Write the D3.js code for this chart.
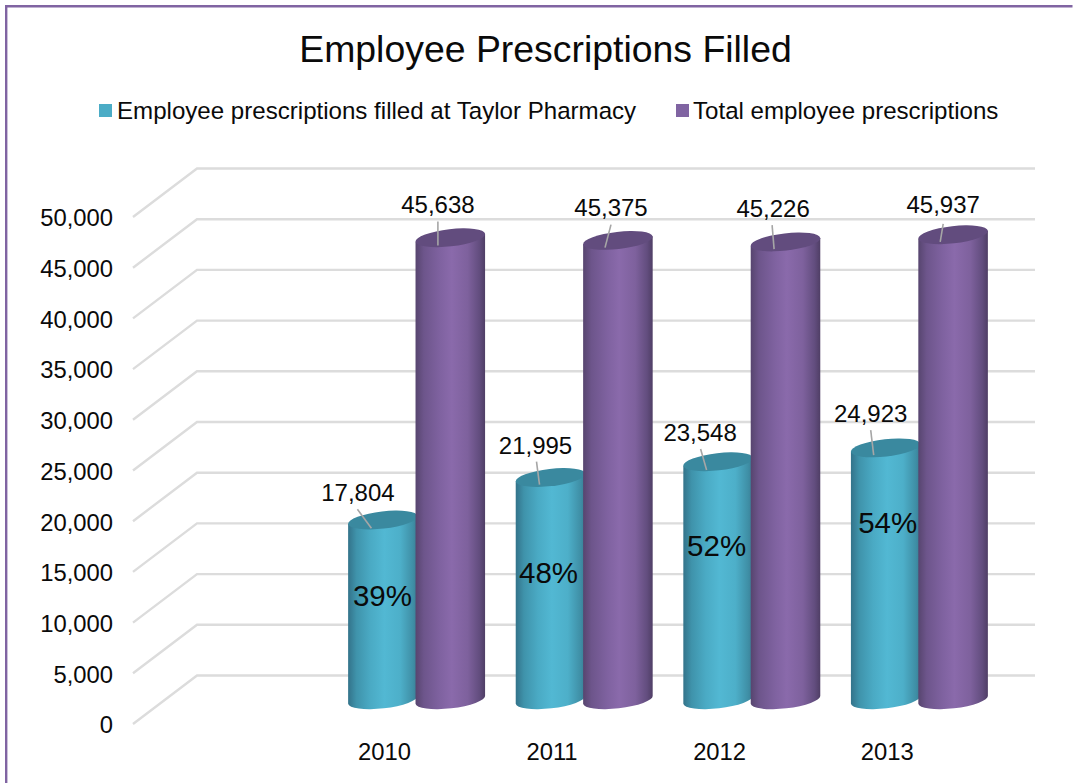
<!DOCTYPE html>
<html>
<head>
<meta charset="utf-8">
<script src="https://cdnjs.cloudflare.com/ajax/libs/d3/7.8.5/d3.min.js"></script>
<style>
  html, body { margin: 0; padding: 0; background: #fff; overflow: hidden; }
  svg { display: block; }
  text { font-family: "Liberation Sans", Arial, sans-serif; fill: #0a0a0a; }
</style>
</head>
<body>
<script>
// The leading blank category leaves an empty slot beside the value axis.
const categories = ["", "2010", "2011", "2012", "2013"];
const years = ["2010", "2011", "2012", "2013"];
const filledAtTaylor = [17804, 21995, 23548, 24923];
const totalPrescriptions = [45638, 45375, 45226, 45937];
const seriesNames = ["Employee prescriptions filled at Taylor Pharmacy", "Total employee prescriptions"];
const valueTicks = [0, 5000, 10000, 15000, 20000, 25000, 30000, 35000, 40000, 45000, 50000];

// Hand placement of the callouts, relative to the centre of each cylinder top:
// [label dx, label baseline dy, leader start dx, dy, leader end dx, dy]
const filledCallouts = [
  [-25, -18, -25.5, -10, -11.5, 9],
  [-15, -23, -14, -15, -11, 8],
  [-18, -20, -17.5, -12, -11.5, 9],
  [-15, -25, -15, -17, -12, 8]
];
const totalCallouts = [
  [-12, -24, -12, -15.5, -12, 8.5],
  [-6.5, -23.5, -6.5, -15, -12.5, 8],
  [-12, -24.5, -13, -16, -11, 8],
  [-9.5, -20.5, -9.5, -10, -12.5, 8]
];
const shareNudges = [[-0.5, 87], [-2, 106], [-1.5, 95], [2, 86]];

const W = 1073, H = 783;
const depth = { dx: 64, dy: 48.5 };
const barW = 70, barHalfGap = 33.5, tilt = 6.5, ry = 8.6, capDrop = 0.8;

const svg = d3.select("body").append("svg").attr("width", W).attr("height", H);

// Frame, open at the right and bottom where the page crops it
svg.append("path")
  .attr("d", `M6.2,${H}V6.2H${W - 0.5}`)
  .attr("fill", "none").attr("stroke", "#8064a2").attr("stroke-width", 2.4);

svg.append("text").attr("x", 545.5).attr("y", 62).attr("text-anchor", "middle")
  .attr("font-size", 37.4).text("Employee Prescriptions Filled");

// Legend
const legendSwatch = ["#4bacc6", "#8064a2"];
[[99, 117], [676, 693]].forEach(([sx, tx], i) => {
  svg.append("rect").attr("x", sx).attr("y", 104).attr("width", 13).attr("height", 13).attr("fill", legendSwatch[i]);
  svg.append("text").attr("x", tx).attr("y", 119).attr("font-size", 24.1).text(seriesNames[i]);
});

// Scales: front edge of the floor, with the back wall offset by the chart depth
const yFront = d3.scaleLinear().domain([0, 50000]).range([724, 217]);
const xFront = d3.scaleBand().domain(categories).range([133, 971]);
const yBack = v => yFront(v) - depth.dy;
const yMid = v => yFront(v) - depth.dy / 2;
const xMid = c => xFront(c) + xFront.bandwidth() / 2 + depth.dx / 2;

// Gridlines along the side wall and back wall
const grid = svg.append("g").attr("fill", "none").attr("stroke", "#dcdcdc").attr("stroke-width", 2.4);
grid.selectAll("path").data(valueTicks).join("path")
  .attr("d", v => `M${xFront.range()[0]},${yFront(v)}L${xFront.range()[0] + depth.dx},${yBack(v)}H${xFront.range()[1] + depth.dx}`);

// Axis labels
const yAxis = svg.append("g").attr("transform", "translate(123,1)")
  .call(d3.axisLeft(yFront).tickValues(valueTicks).tickSize(0).tickPadding(10).tickFormat(d3.format(",")));
const xAxis = svg.append("g").attr("transform", "translate(0,743.5)")
  .call(d3.axisBottom(xFront).tickSize(0).tickPadding(0));
[yAxis, xAxis].forEach(a => {
  a.select(".domain").remove();
  a.selectAll("text").attr("font-size", 23.8).attr("fill", "#0a0a0a").attr("font-family", '"Liberation Sans", Arial, sans-serif');
});
yAxis.selectAll("text").attr("dy", "0.33em");
xAxis.selectAll("text").attr("dy", "0.71em");

// Side shading across each cylinder
const defs = svg.append("defs");
function shade(id, stops) {
  const g = defs.append("linearGradient").attr("id", id);
  stops.forEach(([o, c]) => g.append("stop").attr("offset", o).attr("stop-color", c));
}
shade("bodyTeal", [[0, "#33738a"], [0.12, "#3f93ab"], [0.32, "#4aaac4"], [0.52, "#52b8d3"], [0.75, "#4dafc9"], [0.93, "#3f8fa6"], [1, "#397d93"]]);
shade("bodyPurple", [[0, "#57456f"], [0.12, "#6d558b"], [0.35, "#7f62a0"], [0.52, "#8a6aab"], [0.75, "#7e619d"], [0.92, "#624d7e"], [1, "#4f3e65"]]);

const rad = tilt * Math.PI / 180;
const ex = barW / 2 * Math.cos(rad), ey = barW / 2 * Math.sin(rad);

function cylinder(g, cx, v, bodyFill, capFill) {
  const top = yMid(v) + capDrop, base = yMid(0);
  const arc = `A${barW / 2},${ry} ${-tilt} 0 0`;
  g.append("path")
    .attr("d", `M${cx - ex},${top + ey}L${cx - ex},${base + ey}${arc} ${cx + ex},${base - ey}L${cx + ex},${top - ey}Z`)
    .attr("fill", bodyFill);
  g.append("ellipse")
    .attr("rx", barW / 2).attr("ry", ry)
    .attr("transform", `translate(${cx},${top}) rotate(${-tilt})`)
    .attr("fill", capFill);
}

function callout(g, cx, v, c) {
  const top = yMid(v);
  g.append("line")
    .attr("x1", cx + c[2]).attr("y1", top + c[3])
    .attr("x2", cx + c[4]).attr("y2", top + c[5])
    .attr("stroke", "#a6a6a6").attr("stroke-width", 1.6);
  g.append("text").attr("x", cx + c[0]).attr("y", top + c[1])
    .attr("text-anchor", "middle").attr("font-size", 24)
    .text(d3.format(",")(v));
}

const marks = svg.append("g");
const asPercent = d3.format(".0%");
years.forEach((year, i) => {
  const g = marks.append("g");
  const cx = xMid(year);
  const filled = filledAtTaylor[i], total = totalPrescriptions[i];
  cylinder(g, cx - barHalfGap, filled, "url(#bodyTeal)", "#3a899f");
  cylinder(g, cx + barHalfGap + 0.4, total, "url(#bodyPurple)", "#624c7e");
  callout(g, cx - barHalfGap, filled, filledCallouts[i]);
  callout(g, cx + barHalfGap, total, totalCallouts[i]);
  g.append("text")
    .attr("x", cx - barHalfGap + shareNudges[i][0])
    .attr("y", yMid(filled) + shareNudges[i][1])
    .attr("text-anchor", "middle").attr("font-size", 29.5)
    .text(asPercent(filled / total));
});
</script>
</body>
</html>
